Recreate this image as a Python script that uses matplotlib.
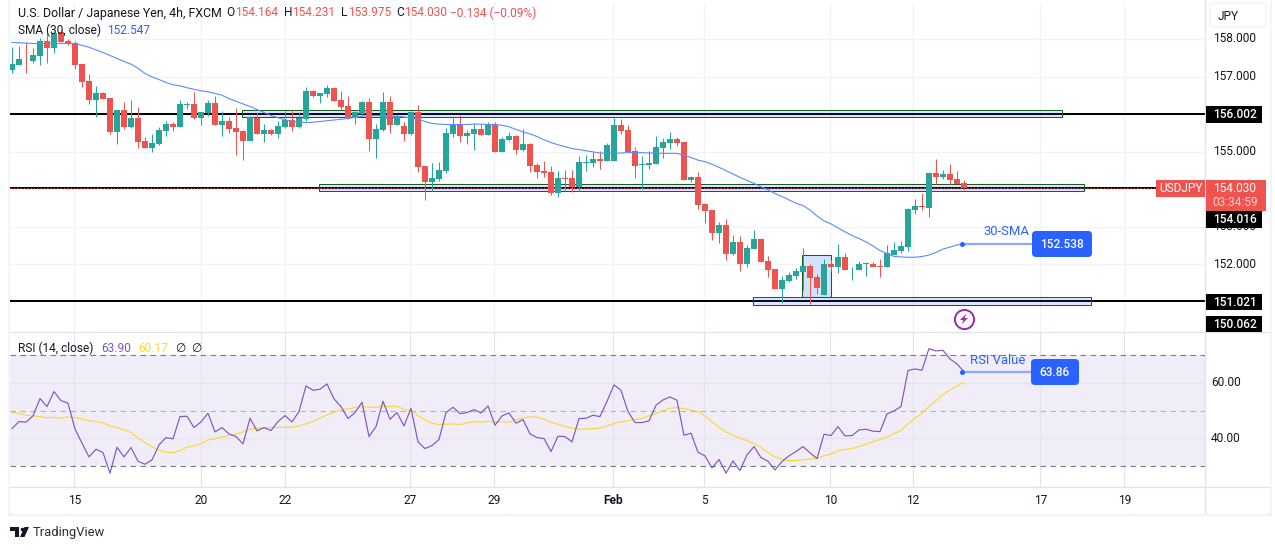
import numpy as np
import matplotlib
matplotlib.use("Agg")
import matplotlib.pyplot as plt
from matplotlib.patches import Rectangle, FancyBboxPatch, Polygon

plt.rcParams["font.family"] = ["Roboto", "DejaVu Sans"]

# USDJPY 4h candles
opens = [
    157.17, 157.31, 157.48, 157.41, 157.55, 157.95, 157.77, 158.20, 157.95, 157.89,
    157.33, 156.88, 156.37, 156.55, 156.42, 155.52, 156.11, 155.65, 155.89, 155.28,
    155.09, 155.20, 155.55, 155.73, 155.65, 156.25, 156.27, 155.89, 156.03, 156.29,
    155.71, 155.81, 155.63, 155.55, 155.28, 155.89, 155.47, 155.57, 155.47, 155.65,
    155.84, 155.65, 155.87, 156.61, 156.48, 156.53, 156.69, 156.37, 156.21, 155.89,
    156.00, 156.32, 155.33, 155.57, 156.32, 155.71, 155.68, 155.47, 156.05, 154.61,
    154.19, 154.27, 154.48, 155.47, 155.71, 155.41, 155.47, 155.60, 155.44, 155.71,
    154.99, 155.31, 155.41, 155.04, 155.20, 154.64, 154.48, 154.45, 153.89, 154.29,
    154.29, 154.05, 154.70, 154.69, 154.80, 154.75, 154.75, 155.71, 155.57, 155.01,
    154.64, 154.64, 154.67, 155.09, 155.23, 155.33, 155.25, 154.24, 154.32, 153.60,
    153.44, 152.83, 153.04, 152.27, 152.59, 152.00, 152.41, 152.67, 152.08, 151.87,
    151.33, 151.55, 151.68, 151.79, 151.95, 151.65, 151.17, 152.00, 151.92, 152.19,
    151.86, 151.84, 152.00, 152.00, 151.95, 151.92, 152.24, 152.35, 152.45, 153.44,
    153.55, 153.49, 154.43, 154.32, 154.40, 154.27, 154.164,
]
highs = [
    157.80, 157.81, 157.93, 157.75, 158.04, 158.15, 158.20, 158.24, 157.99, 157.96,
    157.33, 157.08, 156.75, 156.58, 156.44, 156.12, 156.33, 156.37, 156.18, 155.38,
    155.48, 155.66, 155.82, 155.80, 156.37, 156.32, 156.59, 156.05, 156.37, 156.48,
    156.08, 155.91, 156.15, 155.57, 155.95, 156.05, 155.73, 155.60, 155.81, 156.08,
    156.11, 156.05, 156.71, 156.64, 156.56, 156.77, 156.71, 156.61, 156.48, 156.08,
    156.35, 156.43, 155.73, 156.59, 156.48, 156.00, 155.79, 156.08, 156.24, 154.61,
    154.69, 154.72, 155.63, 155.95, 155.97, 155.57, 155.75, 155.73, 155.79, 155.79,
    155.39, 155.52, 155.44, 155.60, 155.23, 154.69, 154.75, 154.61, 154.48, 154.51,
    154.51, 154.88, 154.91, 155.00, 155.01, 155.23, 155.89, 155.87, 155.71, 155.12,
    154.88, 155.01, 155.41, 155.37, 155.52, 155.39, 155.25, 154.35, 154.45, 153.63,
    153.44, 153.12, 153.20, 152.77, 152.75, 152.51, 152.91, 152.69, 152.21, 151.87,
    151.68, 151.79, 151.89, 152.43, 152.00, 151.73, 152.13, 152.11, 152.53, 152.29,
    151.92, 152.08, 152.05, 152.05, 152.13, 152.51, 152.59, 152.61, 153.49, 153.73,
    153.89, 154.45, 154.80, 154.51, 154.67, 154.48, 154.231,
]
lows = [
    157.10, 157.31, 157.10, 157.35, 157.31, 157.37, 157.64, 157.91, 157.84, 157.20,
    156.73, 156.28, 155.93, 156.40, 155.47, 155.20, 155.60, 155.62, 155.09, 155.09,
    154.99, 155.17, 155.41, 155.55, 155.65, 156.13, 155.88, 155.71, 155.95, 155.71,
    155.41, 155.49, 154.91, 154.77, 155.28, 155.47, 155.25, 155.44, 155.36, 155.63,
    155.55, 155.63, 155.82, 156.45, 156.29, 156.45, 156.35, 156.11, 155.87, 155.73,
    155.95, 155.01, 154.83, 155.55, 155.49, 155.71, 155.28, 155.44, 154.45, 153.71,
    153.95, 154.21, 154.43, 155.39, 155.25, 155.20, 155.04, 155.44, 155.44, 154.99,
    154.99, 155.28, 154.93, 155.01, 154.45, 154.29, 154.32, 153.84, 153.79, 153.97,
    153.92, 153.95, 154.48, 154.59, 154.53, 154.75, 154.75, 155.47, 154.99, 154.29,
    154.00, 154.53, 154.67, 154.83, 155.07, 155.15, 154.24, 154.19, 153.47, 153.09,
    152.64, 152.56, 152.11, 152.24, 151.81, 151.92, 152.41, 152.05, 151.65, 151.33,
    150.97, 151.52, 151.60, 151.31, 150.93, 151.20, 151.17, 151.81, 151.76, 151.84,
    151.57, 151.84, 151.68, 151.92, 151.65, 151.92, 152.24, 152.29, 152.35, 153.33,
    153.44, 153.25, 154.13, 154.27, 154.13, 154.13, 153.975,
]
closes = [
    157.33, 157.47, 157.46, 157.57, 157.95, 157.77, 158.15, 157.92, 157.87, 157.31,
    156.85, 156.37, 156.56, 156.40, 155.52, 156.11, 155.65, 155.89, 155.25, 155.09,
    155.22, 155.57, 155.73, 155.65, 156.27, 156.27, 155.89, 156.05, 156.29, 155.71,
    155.81, 155.60, 155.52, 155.28, 155.91, 155.47, 155.57, 155.47, 155.68, 155.84,
    155.65, 155.89, 156.61, 156.48, 156.56, 156.69, 156.35, 156.19, 155.89, 156.05,
    156.32, 155.33, 155.60, 156.32, 155.71, 155.95, 155.47, 156.05, 154.60, 154.19,
    154.29, 154.51, 155.49, 155.71, 155.41, 155.49, 155.60, 155.44, 155.71, 154.99,
    155.33, 155.41, 155.04, 155.20, 154.61, 154.45, 154.43, 153.89, 154.29, 154.27,
    154.05, 154.72, 154.73, 154.80, 154.75, 155.17, 155.71, 155.55, 154.99, 154.61,
    154.67, 154.69, 155.12, 155.25, 155.33, 155.23, 154.24, 154.32, 153.57, 153.41,
    152.83, 153.04, 152.27, 152.59, 152.00, 152.43, 152.67, 152.05, 151.84, 151.33,
    151.57, 151.71, 151.81, 151.95, 151.63, 151.36, 152.00, 151.92, 152.19, 151.84,
    151.88, 152.00, 152.03, 151.92, 151.92, 152.29, 152.37, 152.48, 153.47, 153.55,
    153.52, 154.43, 154.32, 154.40, 154.24, 154.13, 154.03,
]
sma = [
    157.91, 157.90, 157.89, 157.88, 157.88, 157.88, 157.88, 157.88, 157.88, 157.88,
    157.83, 157.78, 157.71, 157.64, 157.56, 157.48, 157.40, 157.33, 157.22, 157.08,
    156.99, 156.92, 156.84, 156.78, 156.75, 156.70, 156.66, 156.62, 156.59, 156.55,
    156.50, 156.41, 156.34, 156.27, 156.20, 156.12, 156.04, 155.96, 155.90, 155.85,
    155.80, 155.79, 155.77, 155.78, 155.80, 155.82, 155.84, 155.86, 155.88, 155.91,
    155.94, 155.96, 155.96, 155.96, 155.95, 155.94, 155.92, 155.89, 155.86, 155.80,
    155.75, 155.73, 155.72, 155.72, 155.72, 155.72, 155.73, 155.73, 155.72, 155.72,
    155.70, 155.66, 155.59, 155.52, 155.47, 155.40, 155.31, 155.24, 155.18, 155.13,
    155.08, 155.05, 155.02, 154.99, 154.96, 154.95, 154.95, 154.96, 154.97, 154.97,
    154.97, 154.96, 154.96, 154.95, 154.95, 154.95, 154.90, 154.84, 154.77, 154.73,
    154.66, 154.58, 154.49, 154.40, 154.31, 154.23, 154.15, 154.06, 153.98, 153.88,
    153.80, 153.71, 153.62, 153.56, 153.44, 153.28, 153.15, 153.07, 152.96, 152.86,
    152.76, 152.68, 152.59, 152.48, 152.36, 152.28, 152.20, 152.19, 152.18, 152.18,
    152.20, 152.24, 152.31, 152.40, 152.45, 152.51, 152.53,
]
rsi = [
    43.57, 46.10, 45.86, 48.14, 54.39, 51.50, 56.91, 53.66, 52.70, 43.45,
    38.29, 33.36, 36.13, 34.93, 27.48, 36.85, 33.36, 36.73, 31.80, 30.72,
    32.28, 37.69, 40.33, 39.85, 47.90, 48.02, 43.93, 45.98, 49.10, 42.37,
    43.93, 41.65, 40.69, 38.05, 47.30, 42.73, 43.93, 42.85, 46.10, 48.26,
    45.98, 49.70, 58.95, 57.39, 57.75, 59.67, 54.26, 51.50, 47.18, 49.34,
    53.06, 40.69, 44.29, 53.42, 46.94, 49.34, 44.53, 50.90, 38.77, 36.37,
    37.45, 39.61, 49.34, 51.26, 48.98, 49.34, 50.42, 49.22, 51.74, 44.77,
    48.14, 49.22, 45.50, 46.82, 41.65, 40.33, 39.97, 35.29, 40.81, 40.69,
    38.77, 47.18, 47.30, 48.38, 47.90, 53.42, 59.31, 57.39, 49.70, 45.74,
    45.74, 46.34, 51.98, 53.90, 54.98, 53.78, 41.17, 41.89, 35.05, 33.72,
    29.40, 32.40, 27.48, 31.92, 28.44, 34.09, 37.09, 33.12, 31.80, 28.68,
    31.68, 33.72, 35.29, 37.09, 34.81, 32.76, 41.53, 41.05, 44.29, 40.93,
    41.05, 43.09, 43.33, 42.61, 42.49, 48.86, 49.94, 51.50, 64.48, 65.08,
    64.60, 72.40, 71.56, 71.80, 68.68, 66.88, 64.11,
]
rsi_ma = [
    49.34, 49.10, 48.38, 48.14, 47.90, 47.42, 47.66, 47.30, 47.78, 47.54,
    47.06, 46.34, 46.10, 45.62, 44.53, 43.93, 43.09, 42.13, 40.21, 38.53,
    36.97, 35.77, 35.05, 34.93, 35.65, 36.85, 37.33, 38.05, 39.49, 39.85,
    40.57, 41.05, 41.53, 42.37, 43.33, 43.69, 43.93, 43.93, 44.05, 44.05,
    44.05, 44.53, 45.26, 46.22, 47.30, 48.50, 49.46, 50.42, 50.66, 51.14,
    51.50, 51.26, 51.26, 51.50, 51.62, 51.62, 50.54, 49.94, 48.26, 46.70,
    45.50, 45.02, 45.14, 45.26, 45.02, 45.62, 46.10, 45.86, 46.22, 45.86,
    46.10, 45.86, 46.70, 47.42, 47.78, 47.66, 46.94, 45.86, 45.14, 44.41,
    43.69, 43.33, 43.45, 43.57, 43.69, 44.53, 45.38, 45.98, 46.46, 46.82,
    47.30, 48.14, 48.98, 50.06, 50.90, 51.14, 50.78, 50.30, 49.70, 48.14,
    45.98, 44.05, 42.37, 41.17, 40.09, 39.25, 38.17, 36.73, 34.93, 33.36,
    32.52, 32.04, 32.04, 32.28, 32.64, 32.76, 33.72, 34.45, 35.53, 36.01,
    36.37, 37.09, 37.93, 38.89, 39.61, 40.57, 41.77, 42.85, 45.26, 47.30,
    49.10, 51.50, 53.66, 55.83, 57.51, 58.95, 60.27,
]

price_ticks = [158, 157, 156, 155, 154, 153, 152]
rsi_ticks = [60, 40]
time_pos = [8.9, 27, 39, 56.9, 68.9, 85.8, 98.9, 116.9, 128.7, 146.9, 158.9]
time_labels = ["15", "20", "22", "27", "29", "Feb", "5", "10", "12", "17", "19"]
level_lines = [156.002, 154.016, 151.021]
level_labels = ["156.002", "154.016", "151.021", "150.062"]
# zones: first bar, last bar, low, high
zones = [(32.86, 150.0, 155.91, 156.10), (43.86, 153.1, 153.94, 154.125), (105.9, 154.1, 150.91, 151.11)]

GREEN = "#26a69a"
RED = "#ef5350"
BLUE = "#2962ff"
GRID = "#f0f3fa"
BORDER = "#e0e3eb"
INK = "#131722"
W, H = 1275, 550


def px_axes(fig, left, top, right, bottom):
    return fig.add_axes([left / W, 1 - bottom / H, (right - left) / W, (bottom - top) / H])


fig = plt.figure(figsize=(W / 100, H / 100), dpi=100, facecolor="white")
ax = px_axes(fig, 10, 3, 1205, 332)
ax2 = px_axes(fig, 10, 332, 1205, 487)
xlim = (-0.286, 170.43)

# price pane
x = np.arange(len(opens))
o, h, l, c = map(np.array, (opens, highs, lows, closes))
colors = np.where(c >= o, GREEN, RED)
ax.set_xlim(xlim)
ax.set_ylim(150.187, 158.96)
ax.set_yticks(price_ticks)
ax.set_xticks(time_pos)
ax.grid(color=GRID, lw=0.9)
ax.set_axisbelow(True)
ax.tick_params(length=0, labelbottom=False, labelleft=False)
for s in ax.spines.values():
    s.set_visible(False)

for lev in level_lines:
    ax.axhline(lev, color="black", lw=1.45, zorder=2)
ax.axhline(closes[-1], color=RED, lw=0.8, ls=(0, (1.2, 1.8)), zorder=2.2)
for x0, x1, y0, y1 in zones:
    ax.add_patch(Rectangle((x0, y0), x1 - x0, y1 - y0, fc="#2962ff", ec="none", alpha=0.15, zorder=2.4))
    ax.add_patch(Rectangle((x0, y0), x1 - x0, y1 - y0, ec="#1b5e20", lw=0.75, zorder=2.5, fill=False))
ax.add_patch(Rectangle((112.9, 151.12), 4.1, 1.11, fc="#d3e3fb", ec="#1b5e20", lw=0.75, zorder=2.4))

ax.vlines(x, l, h, color=colors, lw=0.72, zorder=3)
ax.bar(x, np.abs(c - o).clip(0.015), bottom=np.minimum(o, c), width=0.72, color=colors, lw=0, zorder=3.1)
ax.plot(x, sma, color="#5a8bff", lw=0.8, zorder=3.4)

# rsi pane
ax2.set_xlim(xlim)
ax2.set_ylim(22.5, 78.4)
ax2.axhspan(30, 70, color="#7e57c2", alpha=0.1, lw=0, zorder=0.5)
ax2.set_yticks(rsi_ticks)
ax2.set_xticks(time_pos)
ax2.set_xticklabels(time_labels, fontsize=8.6, color=INK)
ax2.get_xticklabels()[5].set_fontweight("bold")
ax2.grid(color="#e6e3f0", lw=0.9)
ax2.set_axisbelow(True)
ax2.tick_params(length=0, labelleft=False, pad=5)
for s in ax2.spines.values():
    s.set_visible(False)
for lev, col in ((70, "#787b86"), (50, "#b2b5be"), (30, "#787b86")):
    ax2.axhline(lev, color=col, lw=0.8, ls=(0, (5, 4)), zorder=1)
ax2.plot(x, rsi_ma, color="#fdd835", lw=0.85, zorder=2)
ax2.plot(x, rsi, color="#7e57c2", lw=0.85, zorder=3)

# everything outside the panes, in picture pixels
ov = fig.add_axes([0, 0, 1, 1], facecolor="none")
ov.set_xlim(0, W)
ov.set_ylim(H, 0)
ov.axis("off")

for seg in ([(10, 332), (1270, 332)], [(10, 487), (1270, 487)], [(1205, 0), (1205, 514)]):
    ov.plot(*zip(*seg), color=BORDER, lw=0.9)
ov.plot([9, 1271], [514.5, 514.5], color=GRID, lw=1.6)
ov.plot([9, 9], [0, 514], color=GRID, lw=1.2)
ov.plot([1270.5, 1270.5], [0, 514], color=GRID, lw=1.2)

TXT = dict(fontsize=8.6, va="center")
ov.text(18, 13, "U.S. Dollar / Japanese Yen, 4h, FXCM", color=INK, fontsize=8.9, va="center")
for tx, label, col in ((226, "O", INK), (235, "154.164", RED), (284, "H", INK), (292, "154.231", RED),
                       (341, "L", INK), (348, "153.975", RED), (396, "C", INK), (404, "154.030", RED),
                       (450, "\u22120.134 (\u22120.09%)", RED)):
    ov.text(tx, 13, label, color=col, **TXT)
ov.text(18, 30, "SMA (30, close)", color=INK, **TXT)
ov.text(107, 30, "152.547", color=BLUE, **TXT)
ov.text(18, 348, "RSI (14, close)", color=INK, **TXT)
ov.text(101, 348, "63.90", color="#7e57c2", **TXT)
ov.text(138, 348, "60.17", color="#fdd835", **TXT)
ov.text(175, 348, "\u2205", color=INK, **TXT)
ov.text(191, 348, "\u2205", color=INK, **TXT)

# right price scale
for t in price_ticks:
    if t != 154 and t != 156:
        ypx = 39 + (158 - t) * 37.5
        ov.text(1235, ypx, f"{t:.3f}", color=INK, ha="center", **TXT)
for rt, rl in zip((60, 40), ("60.00", "40.00")):
    ov.text(1226, 383 if rt == 60 else 438, rl, color=INK, ha="center", **TXT)
ov.add_patch(FancyBboxPatch((1210, 3), 56, 24, boxstyle="round,pad=0,rounding_size=4", fc="white", ec=GRID, lw=1))
ov.text(1228, 16, "JPY", color=INK, ha="center", **TXT)

for label, y0, y1 in zip(level_labels, (106, 211, 293.5, 316), (122.5, 227.5, 310, 332)):
    ov.add_patch(Rectangle((1206, y0), 56, y1 - y0, fc="black", ec="none", zorder=5))
    ov.text(1235, (y0 + y1) / 2 + 0.5, label, color="white", ha="center", fontweight="medium", zorder=6, **TXT)
ov.add_patch(Rectangle((1156, 180), 49, 17, fc=RED, ec="none", zorder=5))
ov.text(1180.5, 188.5, "USDJPY", color="white", ha="center", zorder=6, **TXT)
ov.add_patch(Rectangle((1206, 180), 60, 31, fc=RED, ec="none", zorder=5))
ov.text(1235, 188.5, "154.030", color="white", ha="center", zorder=6, **TXT)
ov.text(1235, 202.5, "03:34:59", color="#fbd0cf", ha="center", zorder=6, **TXT)

# callouts
ov.plot([962, 1032], [244, 244], color="#8aa9ff", lw=1.6, zorder=4)
ov.plot([962], [244], "o", color=BLUE, ms=3.6, mew=0, zorder=4.1)
ov.text(1006, 231.5, "30-SMA", color=BLUE, ha="center", fontsize=9.4, va="center")
ov.add_patch(FancyBboxPatch((1032, 231), 60, 26, boxstyle="round,pad=0,rounding_size=4", fc=BLUE, ec="none", zorder=4.2))
ov.text(1062, 244.5, "152.538", color="white", ha="center", zorder=6, fontweight="medium", **TXT)

ov.plot([962, 1032], [371.5, 371.5], color="#8aa9ff", lw=1.6, zorder=4)
ov.plot([962], [371.5], "o", color=BLUE, ms=3.6, mew=0, zorder=4.1)
ov.text(998, 360.5, "RSI Value", color=BLUE, ha="center", fontsize=9.4, va="center")
ov.add_patch(FancyBboxPatch((1031, 359), 48, 26, boxstyle="round,pad=0,rounding_size=4", fc=BLUE, ec="none", zorder=4.2))
ov.text(1055, 372.5, "63.86", color="white", ha="center", zorder=6, fontweight="medium", **TXT)

# earnings style marker with a bolt
ov.scatter([964], [319], s=190, fc="white", ec="#9c27b0", lw=1.4, zorder=4)
ov.add_patch(Polygon([(966.5, 313.5), (960, 320), (963.5, 320), (961.5, 324.5), (968, 318), (964.5, 318)],
                     fc="#9c27b0", ec="none", zorder=4.1))

# logo and wordmark
ov.add_patch(Polygon([(10, 527), (19, 527), (19, 537), (15, 537), (15, 531), (10, 531)], fc=INK, ec="none"))
ov.add_patch(Polygon([(24.5, 527), (29, 527), (24.5, 537), (20, 537)], fc=INK, ec="none"))
ov.scatter([22], [529], s=7, color=INK, lw=0)
ov.text(33, 532.5, "TradingView", color="#2a2e39", fontsize=9.4, va="center")

fig.savefig("out.png", dpi=100)
